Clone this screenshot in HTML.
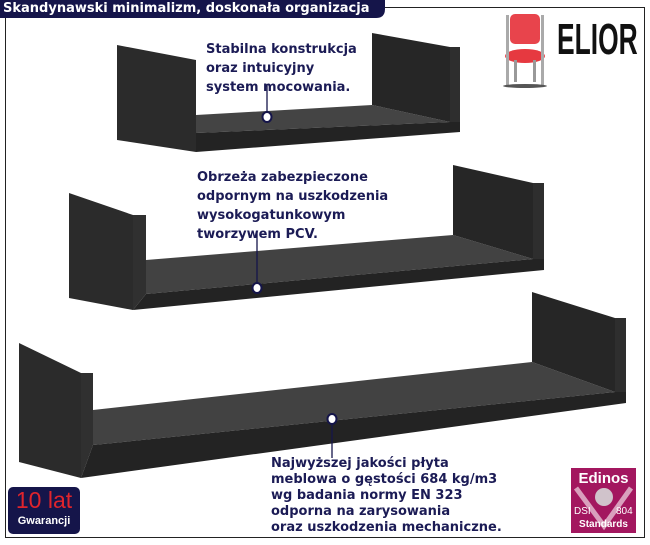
<!DOCTYPE html>
<html><head><meta charset="utf-8"><style>
body{margin:0;width:650px;height:545px;background:#fff;position:relative;overflow:hidden;font-family:"DejaVu Sans","Liberation Sans",sans-serif}
.t{position:absolute;color:#1b1b55;font-weight:bold;font-size:13px;line-height:19px;white-space:nowrap}
</style></head><body>
<svg width="650" height="545" style="position:absolute;left:0;top:0">
<rect x="5.5" y="7.5" width="639" height="530" fill="none" stroke="#222" stroke-width="1"/>
<path d="M0 0H385V9Q385 18 376 18H0Z" fill="#15154a"/>
<!-- shelf 1 -->
<polygon points="117,45 196,60 196,152 117,140" fill="#2b2b2b"/>
<polygon points="196,115 372,105 450,122 196,133" fill="#444"/>
<polygon points="372,33 450,47 450,122 372,105" fill="#262626"/>
<polygon points="450,47 460,47 460,132 450,122" fill="#2e2e2e"/>
<polygon points="196,133 450,122 460,122 460,132 196,152" fill="#232323"/>
<!-- shelf 2 -->
<polygon points="69,193 133,215 133,310 69,298" fill="#2b2b2b"/>
<polygon points="133,215 146,215 146,294 133,310" fill="#303030"/>
<polygon points="146,260 453,235 533,259 146,294" fill="#424242"/>
<polygon points="453,165 533,183 533,259 453,235" fill="#262626"/>
<polygon points="533,183 544,183 544,270 533,259" fill="#2e2e2e"/>
<polygon points="146,294 533,259 544,259 544,270 133,310" fill="#232323"/>
<!-- shelf 3 -->
<polygon points="19,343 81,373 81,478 19,462" fill="#2b2b2b"/>
<polygon points="81,373 93,373 93,445 81,478" fill="#303030"/>
<polygon points="93,410 532,362 615,392 93,445" fill="#424242"/>
<polygon points="532,292 615,318 615,392 532,362" fill="#262626"/>
<polygon points="615,318 626,318 626,403 615,392" fill="#2e2e2e"/>
<polygon points="93,445 615,392 626,392 626,403 81,478" fill="#232323"/>
<!-- leaders -->
<g stroke="#15154a" stroke-width="1.3">
<line x1="267" y1="84" x2="267" y2="113"/>
<line x1="257" y1="232" x2="257" y2="283"/>
<line x1="332" y1="425" x2="332" y2="458"/>
</g>
<g fill="#fff" stroke="#15154a" stroke-width="2">
<ellipse cx="267" cy="117" rx="4.5" ry="5"/>
<ellipse cx="257" cy="288" rx="4.5" ry="5"/>
<ellipse cx="332" cy="419" rx="4.5" ry="5"/>
</g>
<!-- chair -->
<g>
<rect x="510" y="14" width="30" height="30" rx="5" fill="#e8444c"/>
<ellipse cx="525" cy="56" rx="20" ry="7" fill="#e63940"/>
<rect x="506" y="15" width="3" height="70" fill="#aaa"/>
<rect x="541" y="15" width="3" height="70" fill="#aaa"/>
<rect x="514" y="60" width="3" height="22" fill="#999"/>
<rect x="533" y="60" width="3" height="22" fill="#999"/>
<ellipse cx="525" cy="86" rx="22" ry="2" fill="#555"/>
</g>
<!-- badges -->
<rect x="8" y="487" width="72" height="47" rx="5" fill="#15154a"/>
<rect x="571" y="468" width="65" height="65" fill="#a3175f"/>
<path d="M576 488L604 526L631 488" fill="none" stroke="#d9a0bd" stroke-width="5"/>
<circle cx="604" cy="497" r="9" fill="#d0c3cb"/>
</svg>
<div style="position:absolute;left:3px;top:1px;color:#fff;font-weight:bold;font-size:13px;line-height:15px;white-space:nowrap">Skandynawski minimalizm, doskonała organizacja</div>
<div style="position:absolute;left:557px;top:17px;font-family:'Liberation Sans',sans-serif;font-weight:bold;font-size:44px;line-height:46px;transform:scaleX(0.6);transform-origin:left top;color:#111">ELIOR</div>
<div class="t" style="left:206px;top:40px">Stabilna konstrukcja<br>oraz intuicyjny<br>system mocowania.</div>
<div class="t" style="left:197px;top:168px">Obrzeża zabezpieczone<br>odpornym na uszkodzenia<br>wysokogatunkowym<br>tworzywem PCV.</div>
<div class="t" style="left:271px;top:456px;line-height:16px">Najwyższej jakości płyta<br>meblowa o gęstości 684 kg/m3<br>wg badania normy EN 323<br>odporna na zarysowania<br>oraz uszkodzenia mechaniczne.</div>
<div style="position:absolute;left:8px;top:487px;width:72px;text-align:center;color:#e0242c;font-family:'Liberation Sans',sans-serif;font-size:23px;line-height:26px">10 lat</div>
<div style="position:absolute;left:8px;top:515px;width:72px;text-align:center;color:#fff;font-family:'Liberation Sans',sans-serif;font-size:11px;font-weight:bold">Gwarancji</div>
<div style="position:absolute;left:571px;top:470px;width:65px;text-align:center;color:#fff;font-family:'Liberation Sans',sans-serif;font-weight:bold;font-size:15px;line-height:17px">Edinos</div>
<div style="position:absolute;left:574px;top:506px;color:#fff;font-family:'Liberation Sans',sans-serif;font-size:10px">DSI</div>
<div style="position:absolute;left:616px;top:506px;color:#fff;font-family:'Liberation Sans',sans-serif;font-size:10px">804</div>
<div style="position:absolute;left:571px;top:519px;width:65px;text-align:center;color:#fff;font-family:'Liberation Sans',sans-serif;font-weight:bold;font-size:10px">Standards</div>
</body></html>
